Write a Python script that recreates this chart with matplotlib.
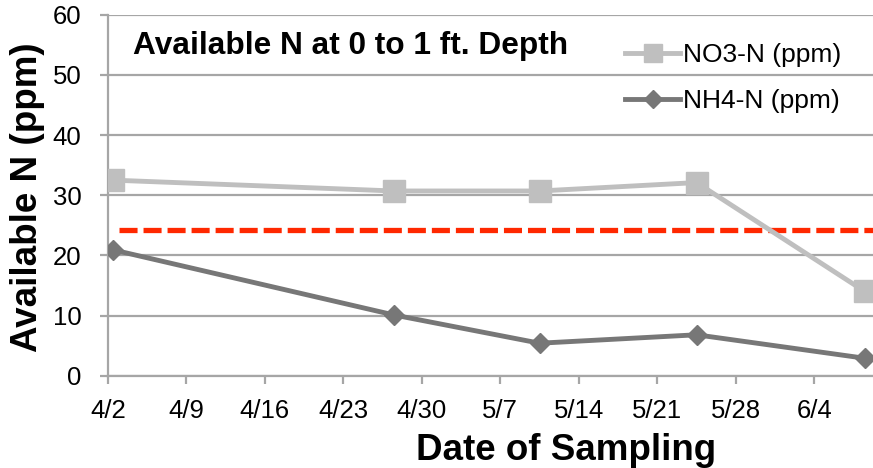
import numpy as np
import pandas as pd
import matplotlib
matplotlib.use('Agg')
import matplotlib.pyplot as plt

plt.rcParams['font.family'] = ['Liberation Sans', 'DejaVu Sans']
plt.rcParams['lines.scale_dashes'] = False

# data
sample_dates = pd.to_datetime(['2012-04-02', '2012-04-27', '2012-05-10', '2012-05-24', '2012-06-08'])
no3 = [32.5, 30.7, 30.7, 32.1, 14.0]
nh4 = [20.9, 10.1, 5.4, 6.8, 2.9]
threshold = 24.2
threshold_dates = pd.to_datetime(['2012-04-03', '2012-06-10'])

tick_dates = pd.to_datetime(['2012-04-02', '2012-04-09', '2012-04-16', '2012-04-23', '2012-04-30',
                             '2012-05-07', '2012-05-14', '2012-05-21', '2012-05-28', '2012-06-04'])
tick_labels = ['4/2', '4/9', '4/16', '4/23', '4/30', '5/7', '5/14', '5/21', '5/28', '6/4']
yticks = [0, 10, 20, 30, 40, 50, 60]

W, H = 873, 468
fig = plt.figure(figsize=(W / 100, H / 100), dpi=100)
# axis runs a bit past the right edge of the picture (cropped like the original)
ax = fig.add_axes([107.8 / W, 1 - 375.7 / H, (881.6 - 107.8) / W, (375.7 - 14.7) / H])

grid_col = '#A6A6A6'
# points sit mid-day like an Excel date axis
x = sample_dates + pd.Timedelta(hours=12)

ax.plot(threshold_dates, [threshold, threshold], color='#FF2800', lw=3.8,
        dashes=(13, 4.3), zorder=3)
ax.plot(x, no3, color='#BFBFBF', lw=3.5, marker='s', ms=15.5, mec='#BFBFBF',
        label='NO3-N (ppm)', zorder=4)
ax.plot(x, nh4, color='#777777', lw=3.5, marker='D', ms=10.5, mec='#777777',
        label='NH4-N (ppm)', zorder=4)

ax.set_xlim(pd.Timestamp('2012-04-02'), pd.Timestamp('2012-06-10'))
ax.set_ylim(0, 60)
ax.set_xticks(tick_dates)
ax.set_xticklabels(tick_labels)
ax.set_yticks(yticks)

ax.yaxis.grid(True, color=grid_col, lw=1.6)
ax.set_axisbelow(True)
for s in ['top', 'right']:
    ax.spines[s].set_visible(False)
for s in ['left', 'bottom']:
    ax.spines[s].set_color(grid_col)
    ax.spines[s].set_linewidth(1.6)
ax.tick_params(axis='both', colors=grid_col, labelcolor='black', labelsize=18.5,
               length=6, width=1.6)
ax.tick_params(axis='y', pad=13)
ax.tick_params(axis='x', pad=11)

ax.text((133 - 107.8) / 773.8, (375.7 - 46) / 361, 'Available N at 0 to 1 ft. Depth',
        transform=ax.transAxes, fontsize=22.8, fontweight='bold', ha='left', va='center')

leg = ax.legend(loc='upper left', bbox_to_anchor=((625 - 107.8) / 773.8, (375.7 - 43) / 361),
                frameon=False, fontsize=19, handlelength=2.1, handletextpad=0.1,
                labelspacing=0.85, borderpad=0, borderaxespad=0, markerscale=0.85)

fig.text(566 / W, 1 - 460 / H, 'Date of Sampling', fontsize=26.5, fontweight='bold',
         ha='center', va='baseline')
fig.text(28 / W, 1 - 197 / H, 'Available N (ppm)', fontsize=26.5, fontweight='bold',
         ha='center', va='center', rotation=90)

fig.savefig('out.png', dpi=100)
